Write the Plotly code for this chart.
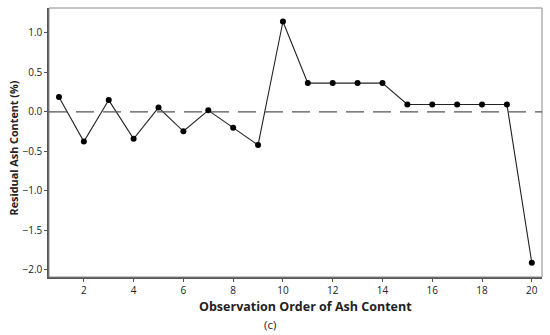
import plotly.graph_objects as go

order = list(range(1, 21))
residual = [0.19, -0.375, 0.15, -0.34, 0.055, -0.245, 0.02, -0.20, -0.42, 1.145,
            0.365, 0.365, 0.365, 0.365, 0.095, 0.095, 0.095, 0.095, 0.095, -1.91]

fig = go.Figure()

# plot frame (top/right thin grey)
fig.add_shape(type="rect", xref="paper", yref="paper", x0=0, y0=0, x1=1, y1=1,
              line=dict(color="#888888", width=1), layer="above")
# reference line at zero
fig.add_hline(y=0, line=dict(color="#555555", width=1.2, dash="18px,9px"))

fig.add_trace(go.Scatter(
    x=order, y=residual, mode="lines+markers",
    line=dict(color="#222222", width=1.1),
    marker=dict(color="black", size=6),
    showlegend=False, hoverinfo="skip",
))

fig.update_layout(
    width=550, height=335,
    margin=dict(l=49, r=8, t=8, b=58),
    paper_bgcolor="white", plot_bgcolor="white",
    font=dict(family="Open Sans", size=10, color="#222222"),
)
# axis titles and panel label
fig.add_annotation(text="<b>Observation Order of Ash Content</b>", x=0.52, xref="paper",
                   y=-0.1115, yref="paper", yanchor="middle", showarrow=False,
                   font=dict(size=12.5))
fig.add_annotation(text="<b>Residual Ash Content (%)</b>", x=-0.072, xref="paper",
                   y=0.48, yref="paper", xanchor="center", yanchor="middle",
                   textangle=-90, showarrow=False,
                   font=dict(family="Liberation Sans Narrow, Open Sans", size=10.8))
fig.add_annotation(text="(c)", x=0.448, xref="paper", y=-0.175, yref="paper",
                   yanchor="middle", showarrow=False, font=dict(size=11.5))

fig.update_xaxes(
    range=[0.6, 20.41], tickvals=list(range(2, 21, 2)),
    showgrid=False, zeroline=False,
    showline=True, linecolor="#555555", linewidth=1.5,
    ticks="outside", ticklen=3, tickcolor="#555555",
)
fig.update_yaxes(
    range=[-2.09, 1.316], tickvals=[-2.0, -1.5, -1.0, -0.5, 0.0, 0.5, 1.0],
    tickformat=".1f",
    showgrid=False, zeroline=False,
    showline=True, linecolor="#555555", linewidth=1.5,
    ticks="outside", ticklen=3, tickcolor="#555555",
)

fig.write_html("out.html", config={"displayModeBar": False},
               post_script="document.body.style.margin='0';")
